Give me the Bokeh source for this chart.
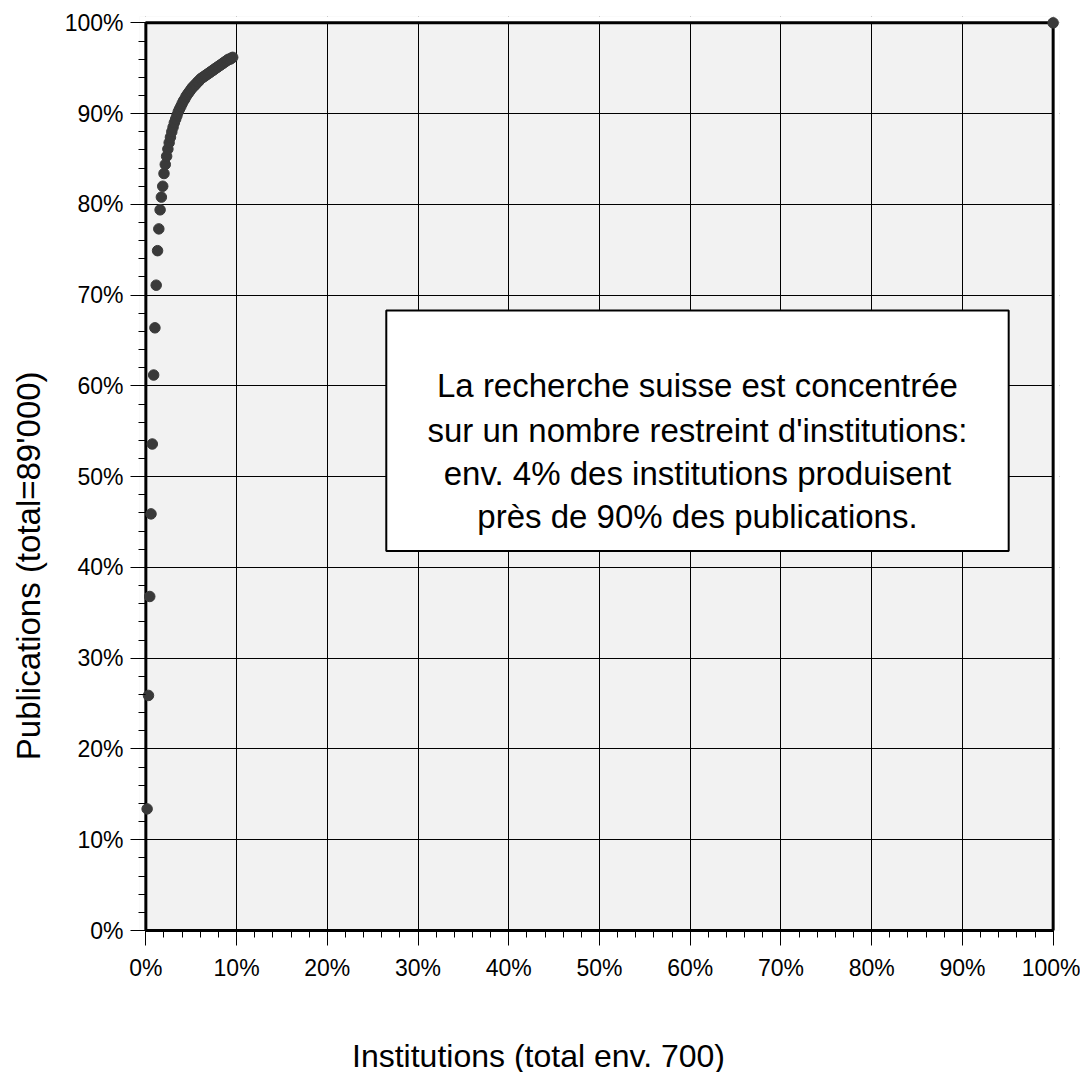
from bokeh.plotting import figure
from bokeh.models import BoxAnnotation, Label, SingleIntervalTicker, CustomJSTickFormatter, Range1d
from bokeh.layouts import row, column
from bokeh.embed import file_html
from bokeh.resources import INLINE
import math

# Cumulative share of institutions (%) and publications (%)
inst_pct = [0.14, 0.29, 0.43, 0.57, 0.71, 0.86, 1.00, 1.14, 1.29, 1.43,
            1.57, 1.71, 1.86, 2.00, 2.14, 2.29, 2.43, 2.57, 2.71, 2.86,
            3.00, 3.14, 3.29, 3.43, 3.57, 3.71, 3.86, 4.00, 4.14, 4.29,
            4.43, 4.57, 4.71, 4.86, 5.00, 5.14, 5.29, 5.43, 5.57, 5.71,
            5.86, 6.00, 6.14, 6.29, 6.43, 6.57, 6.71, 6.86, 7.00, 7.14,
            7.29, 7.43, 7.57, 7.71, 7.86, 8.00, 8.14, 8.29, 8.43, 8.57,
            8.71, 8.86, 9.00, 9.14, 9.29, 9.43, 9.57, 100.0]
pub_pct = [13.4, 25.9, 36.8, 45.9, 53.6, 61.2, 66.4, 71.1, 74.9, 77.3,
           79.4, 80.8, 82.0, 83.4, 84.4, 85.3, 86.1, 86.8, 87.4, 88.0,
           88.5, 89.0, 89.4, 89.8, 90.2, 90.5, 90.8, 91.1, 91.4, 91.6,
           91.9, 92.1, 92.3, 92.5, 92.7, 92.9, 93.0, 93.2, 93.3, 93.5,
           93.6, 93.8, 93.9, 94.0, 94.1, 94.2, 94.3, 94.4, 94.5, 94.6,
           94.7, 94.8, 94.9, 95.0, 95.1, 95.2, 95.3, 95.4, 95.5, 95.6,
           95.7, 95.8, 95.9, 96.0, 96.0, 96.1, 96.2, 100.0]

x_label = "Institutions (total env. 700)"
y_label = "Publications (total=89'000)"
note_lines = ["La recherche suisse est concentrée",
              "sur un nombre restreint d'institutions:",
              "env. 4% des institutions produisent",
              "près de 90% des publications."]

FONT = "Liberation Sans"
PAD = 0.7  # small range padding so edge markers are not clipped

LEFT_W = 50
MAIN_W, MAIN_H = 1030, 990
BOTTOM_H = 82

p = figure(width=MAIN_W, height=MAIN_H, output_backend="svg", toolbar_location=None,
           x_range=Range1d(-PAD, 100 + PAD), y_range=Range1d(0, 100 + PAD),
           min_border_left=89, min_border_right=21, min_border_top=16, min_border_bottom=60)

p.background_fill_color = "#f2f2f2"
p.border_fill_color = "white"
p.outline_line_color = None

for ax in (p.xaxis[0], p.yaxis[0]):
    ax.ticker = SingleIntervalTicker(interval=10, num_minor_ticks=5)
    ax.formatter = CustomJSTickFormatter(code="return tick.toFixed(0) + '%';")
    ax.bounds = (0, 100)
    ax.axis_line_width = 3
    ax.axis_line_color = "black"
    ax.major_tick_line_color = "black"
    ax.major_tick_line_width = 1
    ax.minor_tick_line_color = "black"
    ax.major_label_text_font = FONT
    ax.major_label_text_font_size = "23px"
    ax.major_label_text_color = "black"

p.xaxis.major_tick_in = 0
p.xaxis.major_tick_out = 15
p.xaxis.minor_tick_in = 0
p.xaxis.minor_tick_out = 7
p.xaxis.major_label_standoff = 9

p.yaxis.axis_line_color = None
p.yaxis.major_tick_in = 6
p.yaxis.major_tick_out = 9
p.yaxis.minor_tick_in = 6
p.yaxis.minor_tick_out = 1
p.yaxis.major_label_standoff = 7

for g in (p.xgrid[0], p.ygrid[0]):
    g.ticker = SingleIntervalTicker(interval=10)
    g.grid_line_color = "black"
    g.grid_line_width = 1

# white masks outside the 0..100 square and the square's frame
for kw in (dict(right=0), dict(left=100), dict(bottom=100)):
    p.add_layout(BoxAnnotation(fill_color="white", fill_alpha=1.0, line_color=None,
                               level="underlay", **kw))
p.add_layout(BoxAnnotation(left=0, right=100, bottom=0, top=100, fill_alpha=0,
                           line_color="black", line_alpha=1.0, line_width=3, level="underlay"))

p.scatter(inst_pct, pub_pct, size=10.5, color="#3a3a3a", line_color="#3a3a3a")

p.add_layout(BoxAnnotation(left=26.5, right=95.1, bottom=41.8, top=68.3,
                           fill_color="white", fill_alpha=1.0,
                           line_color="black", line_alpha=1.0, line_width=2))

ys = [60.0, 55.1, 50.3, 45.6]
for t, yy in zip(note_lines, ys):
    p.add_layout(Label(x=60.8, y=yy, text=t, text_align="center", text_baseline="middle",
                       text_font=FONT, text_font_size="33px", text_color="black"))


def strip(w, h):
    s = figure(width=w, height=h, output_backend="svg", toolbar_location=None,
               x_range=Range1d(0, w), y_range=Range1d(0, h),
               x_axis_location=None, y_axis_location=None, min_border=0)
    s.grid.visible = False
    s.outline_line_color = None
    s.background_fill_color = "white"
    s.border_fill_color = "white"
    return s


# y-axis title strip (placed as in the original, below the frame centre)
left = strip(LEFT_W, MAIN_H)
left.add_layout(Label(x=28, y=MAIN_H - 595, text=y_label, angle=math.pi / 2,
                      text_align="center", text_baseline="middle",
                      text_font=FONT, text_font_size="33px", text_color="black"))

# x-axis title strip (placed as in the original, left of the frame centre)
bottom = strip(LEFT_W + MAIN_W, BOTTOM_H)
bottom.add_layout(Label(x=538, y=BOTTOM_H - (1055 - MAIN_H), text=x_label,
                        text_align="center", text_baseline="middle",
                        text_font=FONT, text_font_size="32px", text_color="black"))

layout = column(row(left, p, spacing=0), bottom, spacing=0)

open("out.html", "w").write(file_html(layout, INLINE))
